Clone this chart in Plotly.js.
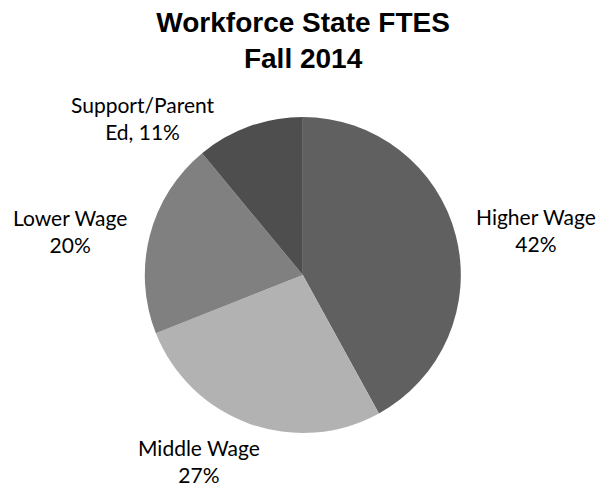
<!DOCTYPE html>
<html>
<head>
<meta charset="utf-8">
<script src="https://cdn.plot.ly/plotly-3.0.1.min.js"></script>
<style>html,body{margin:0;padding:0;background:#fff;}#chart{width:602px;height:485px;}</style>
</head>
<body>
<div id="chart"></div>
<script>
const categories = ["Higher Wage", "Middle Wage", "Lower Wage", "Support/Parent Ed"];
const shares = [42, 27, 20, 11];
const labelTexts = ["Higher Wage<br>42%", "Middle Wage<br>27%", "Lower Wage<br>20%", "Support/Parent<br>Ed, 11%"];
const sliceColors = ["#606060", "#b2b2b2", "#808080", "#4e4e4e"];

// label anchor positions (paper fractions), one per category
const labelX = [0.8904, 0.3306, 0.1163, 0.2375];
const labelY = [0.5268, 0.0505, 0.5247, 0.7557];

const trace = {
  type: "pie",
  labels: categories,
  values: shares,
  textinfo: "none",
  sort: false,
  direction: "clockwise",
  rotation: 0,
  marker: {colors: sliceColors, line: {width: 0}},
  domain: {x: [0.2405, 0.7655], y: [0.1072, 0.7588]},
  showlegend: false,
  hoverinfo: "none"
};

const labelFont = {family: "Lato, 'Open Sans', sans-serif", size: 21, color: "#000"};
const annotations = labelTexts.map((t, i) => ({
  text: t, xref: "paper", yref: "paper", x: labelX[i], y: labelY[i],
  xanchor: "center", yanchor: "middle", showarrow: false, align: "center",
  font: labelFont
}));

const layout = {
  width: 602, height: 485,
  margin: {l: 0, r: 0, t: 0, b: 0},
  paper_bgcolor: "#fff",
  title: {
    text: "<b>Workforce State FTES<br>Fall 2014</b>",
    font: {family: "'Liberation Sans', Arial, sans-serif", size: 28, color: "#000"},
    x: 0.5035, xanchor: "center",
    y: 1 - 32/485, yanchor: "top", yref: "container"
  },
  annotations: annotations,
  showlegend: false
};

Plotly.newPlot("chart", [trace], layout, {displayModeBar: false, staticPlot: true});
</script>
</body>
</html>
